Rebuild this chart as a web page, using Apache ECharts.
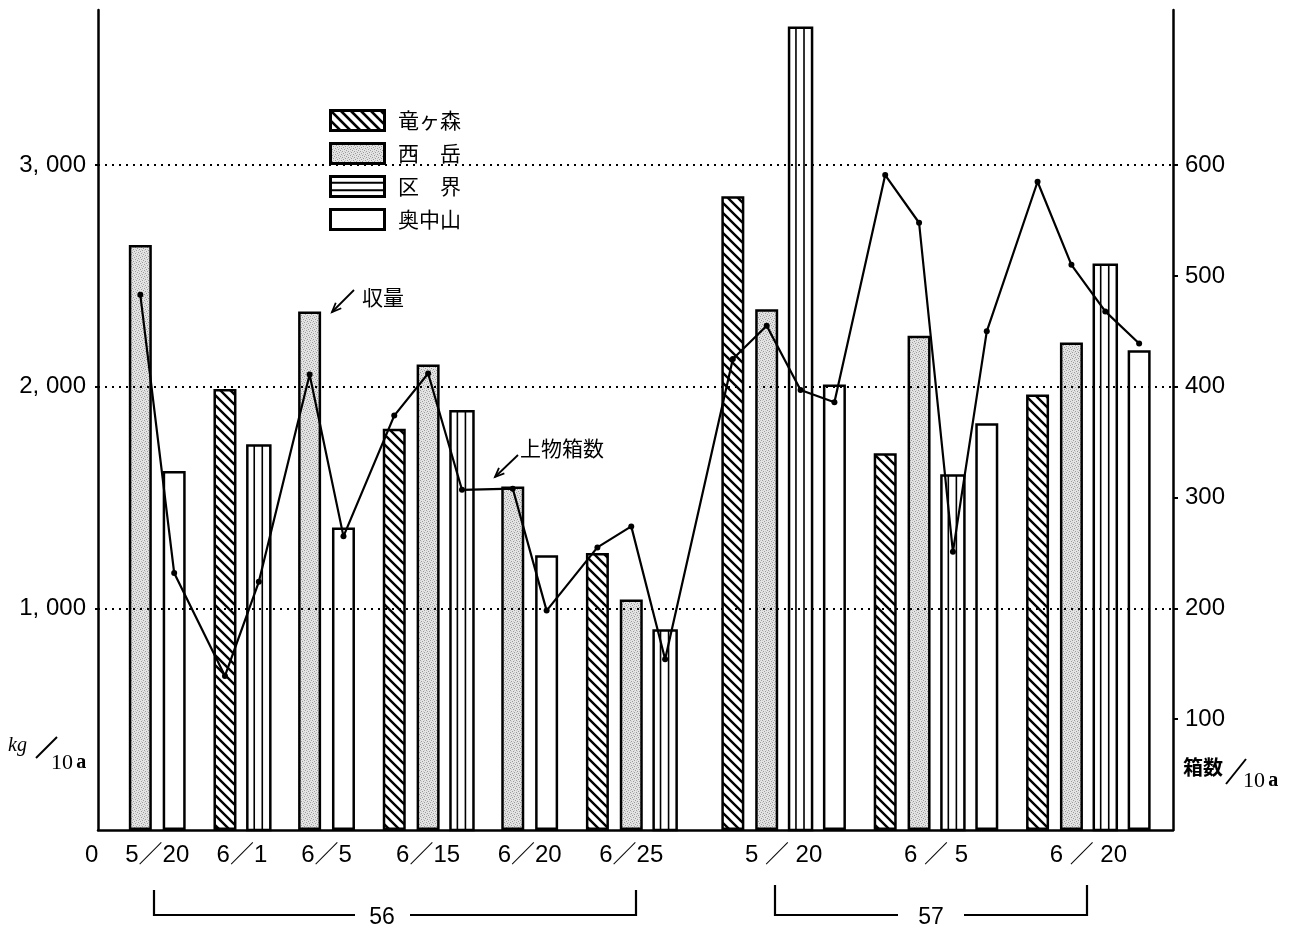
<!DOCTYPE html>
<html><head><meta charset="utf-8">
<script src="https://cdn.jsdelivr.net/npm/echarts@6/dist/echarts.min.js"></script>
<style>html,body{margin:0;padding:0;background:#fff}#c{width:1296px;height:930px}</style>
</head><body><div id="c"></div>
<script>
// ---------------- data ----------------
const stations = ['竜ヶ森', '西岳', '区界', '奥中山'];
const dates56 = ['5／20', '6／1', '6／5', '6／15', '6／20', '6／25'];
const dates57 = ['5 ／ 20', '6 ／ 5', '6 ／ 20'];
const yearLabels = ['56', '57'];
// 収量 kg/10a, per harvest date (56 dates then 57 dates); null = no bar
const yieldRyu   = [null, 1990, null, 1810, null, 1250, 2860, 1700, 1965];
const yieldNishi = [2640, null, 2340, 2100, 1550, 1040, 2350, 2230, 2200];
const yieldKuz   = [null, 1735, null, 1890, null,  900, 3620, 1600, 2550];
const yieldOku   = [1620, null, 1365, null, 1240, null, 2010, 1835, 2165];
// 上物箱数 boxes/10a, same layout
const boxRyu   = [null, 139, null, 374, null, 255, 425, 591, 585];
const boxNishi = [483, null, 411, 412, 308, 274, 455, 548, 510];
const boxKuz   = [null, 224, null, 307, null, 154, 397, 251, 468];
const boxOku   = [232, null, 265, null, 198, null, 386, 450, 439];
const leftTicks = [1000, 2000, 3000];
const rightTicks = [100, 200, 300, 400, 500, 600];

// ---------------- layout of bar slots (built from data) ----------------
const yields = [yieldRyu, yieldNishi, yieldKuz, yieldOku];
const boxes = [boxRyu, boxNishi, boxKuz, boxOku];
const dates = dates56.concat(dates57);
const slots = [];
let pos = null;
for (let g = 0; g < dates.length; g++) {
  let first = true;
  for (let s = 0; s < stations.length; s++) {
    if (yields[s][g] == null) continue;
    if (pos === null) pos = 2.5;
    else pos += first ? (g === dates56.length ? 4 : 3) : 2;
    first = false;
    slots.push({ x: pos, s: s, g: g });
  }
}
const xMax = pos + 2;
const labelMap = {};
const groupCenters = [];
for (let g = 0; g < dates.length; g++) {
  const xs = slots.filter(d => d.g === g).map(d => d.x);
  const c = (Math.min(...xs) + Math.max(...xs)) / 2;
  labelMap[String(c)] = dates[g];
  groupCenters.push(c);
}

const BAR_W = 23;
const FONT_NUM = '"Liberation Sans", "Noto Sans CJK JP", sans-serif';
const FONT_JP = '"Noto Sans CJK JP", sans-serif';

// ---------------- patterns ----------------
function hatchCanvas() {
  const c = document.createElement('canvas'); c.width = 10; c.height = 10;
  const x = c.getContext('2d');
  x.fillStyle = '#fff'; x.fillRect(0, 0, 10, 10);
  x.strokeStyle = '#000'; x.lineWidth = 2.4;
  x.beginPath();
  x.moveTo(-2, -2); x.lineTo(12, 12);
  x.moveTo(-12, -2); x.lineTo(2, 12);
  x.moveTo(8, -2); x.lineTo(22, 12);
  x.stroke();
  return c;
}
function stippleCanvas() {
  const c = document.createElement('canvas'); c.width = 6; c.height = 6;
  const x = c.getContext('2d');
  x.fillStyle = '#e4e4e4'; x.fillRect(0, 0, 6, 6);
  x.fillStyle = '#9a9a9a';
  [[0,0],[3,1],[1,3],[4,4],[5,2],[2,5]].forEach(p => x.fillRect(p[0], p[1], 1, 1));
  x.fillStyle = '#c8c8c8';
  [[1,1],[4,0],[0,4],[3,3]].forEach(p => x.fillRect(p[0], p[1], 1, 1));
  return c;
}
function iconURL(kind) {
  const W = 57, H = 23;
  const c = document.createElement('canvas'); c.width = W; c.height = H;
  const x = c.getContext('2d');
  x.fillStyle = '#fff'; x.fillRect(0, 0, W, H);
  if (kind === 0) {
    x.save(); x.beginPath(); x.rect(0, 0, W, H); x.clip();
    x.strokeStyle = '#000'; x.lineWidth = 2.6;
    for (let k = -30; k < W + 10; k += 10) { x.beginPath(); x.moveTo(k, 0); x.lineTo(k + H, H); x.stroke(); }
    x.restore();
  } else if (kind === 1) {
    x.fillStyle = x.createPattern(stippleCanvas(), 'repeat'); x.fillRect(0, 0, W, H);
  } else if (kind === 2) {
    x.strokeStyle = '#000'; x.lineWidth = 2;
    [H / 3, 2 * H / 3].forEach(yy => { x.beginPath(); x.moveTo(0, yy); x.lineTo(W, yy); x.stroke(); });
  }
  x.strokeStyle = '#000'; x.lineWidth = 3; x.strokeRect(1.5, 1.5, W - 3, H - 3);
  return 'image://' + c.toDataURL();
}

function barData(s) {
  return slots.filter(d => d.s === s).map(d => [d.x, yields[s][d.g]]);
}

const series = [];
[0, 1, 3].forEach(s => {
  series.push({
    name: stations[s], type: 'bar', xAxisIndex: 0, yAxisIndex: 0,
    barWidth: BAR_W, barGap: '-100%',
    data: barData(s),
    itemStyle: {
      color: s === 0 ? { image: hatchCanvas(), repeat: 'repeat' }
           : s === 1 ? { image: stippleCanvas(), repeat: 'repeat' } : '#fff',
      borderColor: '#000', borderWidth: 2.5
    },
    emphasis: { disabled: true }, z: 2
  });
});
series.splice(2, 0, {
  name: stations[2], type: 'custom', xAxisIndex: 0, yAxisIndex: 0,
  data: barData(2),
  renderItem: function (params, api) {
    const xv = api.value(0), v = api.value(1);
    const top = api.coord([xv, v]), bot = api.coord([xv, 0]);
    const l = top[0] - BAR_W / 2;
    return { type: 'group', children: [
      { type: 'rect', shape: { x: l, y: top[1], width: BAR_W, height: bot[1] - top[1] },
        style: { fill: '#fff', stroke: '#000', lineWidth: 2.5 } },
      { type: 'line', shape: { x1: l + BAR_W * 0.3, y1: top[1], x2: l + BAR_W * 0.3, y2: bot[1] },
        style: { stroke: '#000', lineWidth: 1.6 } },
      { type: 'line', shape: { x1: l + BAR_W * 0.65, y1: top[1], x2: l + BAR_W * 0.65, y2: bot[1] },
        style: { stroke: '#000', lineWidth: 1.6 } }
    ] };
  },
  z: 2
});
series.push({
  name: '上物箱数', type: 'line', xAxisIndex: 0, yAxisIndex: 1,
  data: slots.map(d => [d.x, boxes[d.s][d.g]]),
  symbol: 'circle', symbolSize: 6,
  lineStyle: { color: '#000', width: 2.2 },
  itemStyle: { color: '#000' },
  z: 5,
  markLine: {
    silent: true, symbol: ['none', 'none'], label: { show: false },
    lineStyle: { color: '#000', type: [2, 5], width: 1.8 },
    data: [{ yAxis: 200 }, { yAxis: 400 }, { yAxis: 600 }]
  }
});

function arrow(x1, y1, x2, y2) {
  const a = Math.atan2(y2 - y1, x2 - x1), L = 10, sp = 0.4;
  return [
    { type: 'line', shape: { x1, y1, x2, y2 }, style: { stroke: '#000', lineWidth: 1.8 } },
    { type: 'polyline', shape: { points: [
      [x2 - L * Math.cos(a - sp), y2 - L * Math.sin(a - sp)], [x2, y2],
      [x2 - L * Math.cos(a + sp), y2 - L * Math.sin(a + sp)] ] },
      style: { stroke: '#000', lineWidth: 1.8, fill: null } }
  ];
}
function bracket(xl, xr, ytop, ybot, gl, gr, label, cx) {
  return [
    { type: 'polyline', shape: { points: [[xl, ytop], [xl, ybot], [gl, ybot]] }, style: { stroke: '#000', lineWidth: 2.2, fill: null } },
    { type: 'polyline', shape: { points: [[gr, ybot], [xr, ybot], [xr, ytop]] }, style: { stroke: '#000', lineWidth: 2.2, fill: null } },
    { type: 'text', x: cx, y: ybot + 3, style: { text: label, font: '23px ' + FONT_NUM, fill: '#000', align: 'center', verticalAlign: 'middle' } }
  ];
}

const chart = echarts.init(document.getElementById('c'));
chart.setOption({
  animation: false,
  backgroundColor: '#fff',
  grid: { left: 98, right: 123, top: 10, bottom: 100, containLabel: false },
  legend: {
    data: stations.map((n, i) => ({ name: n, icon: iconURL(i) })),
    orient: 'vertical', left: 329, top: 109, padding: 0,
    itemWidth: 57, itemHeight: 23, itemGap: 10,
    selectedMode: false,
    formatter: n => n.length === 2 ? n[0] + '　' + n[1] : n,
    textStyle: { fontFamily: FONT_JP, fontSize: 21, color: '#000', padding: [0, 0, 0, 7] }
  },
  xAxis: {
    type: 'value', min: 0, max: xMax, interval: 0.5,
    axisLine: { show: true, lineStyle: { color: '#000', width: 2.5 } },
    axisTick: { show: false }, splitLine: { show: false },
    axisLabel: {
      interval: 0, margin: 13, color: '#000', fontSize: 24, fontFamily: FONT_NUM,
      showMinLabel: true, showMaxLabel: true,
      formatter: v => labelMap[String(v)] || ''
    }
  },
  yAxis: [{
    type: 'value', min: 0, max: 3700, interval: 1000, position: 'left',
    axisLine: { show: true, lineStyle: { color: '#000', width: 2.5 } },
    axisTick: { show: true, length: 3, customValues: leftTicks, lineStyle: { color: '#000', width: 2 } },
    splitLine: { show: false },
    axisLabel: {
      margin: 12, color: '#000', fontSize: 24, fontFamily: FONT_NUM,
      showMaxLabel: false,
      formatter: v => v === 0 ? '{z|0}' : (leftTicks.indexOf(v) >= 0 ? (v / 1000) + ', 000' : ''),
      rich: { z: { width: 1, align: 'left', padding: [50, 0, 0, 0], fontSize: 24, fontFamily: FONT_NUM, color: '#000' } }
    }
  }, {
    type: 'value', min: 0, max: 740, interval: 100, position: 'right',
    axisLine: { show: true, lineStyle: { color: '#000', width: 2.5 } },
    axisTick: { show: true, length: 5, customValues: rightTicks, lineStyle: { color: '#000', width: 2 } },
    splitLine: { show: false },
    axisLabel: {
      margin: 12, color: '#000', fontSize: 24, fontFamily: FONT_NUM, showMaxLabel: false,
      formatter: v => rightTicks.indexOf(v) >= 0 ? String(v) : ''
    }
  }],
  series: series,
  graphic: [].concat(
    [
      { type: 'text', x: 362, y: 297, style: { text: '収量', font: '21px ' + FONT_JP, fill: '#000', verticalAlign: 'middle' } },
      { type: 'text', x: 520, y: 448, style: { text: '上物箱数', font: '21px ' + FONT_JP, fill: '#000', verticalAlign: 'middle' } },
      { type: 'text', x: 8, y: 746, style: { text: 'kg', font: 'italic 20px "Liberation Serif", serif', fill: '#000', verticalAlign: 'middle' } },
      { type: 'line', shape: { x1: 36, y1: 758, x2: 57, y2: 737 }, style: { stroke: '#000', lineWidth: 2 } },
      { type: 'text', x: 51, y: 763, style: { text: '{n|10} {a|a}', rich: { n: { font: '22px "Liberation Serif", serif', fill: '#000' }, a: { font: 'bold 20px "Liberation Serif", serif', fill: '#000' } }, verticalAlign: 'middle' } },
      { type: 'text', x: 1183, y: 767, style: { text: '箱数', font: 'bold 20px ' + FONT_JP, fill: '#000', verticalAlign: 'middle' } },
      { type: 'line', shape: { x1: 1226, y1: 784, x2: 1246, y2: 759 }, style: { stroke: '#000', lineWidth: 2 } },
      { type: 'text', x: 1243, y: 781, style: { text: '{n|10} {a|a}', rich: { n: { font: '22px "Liberation Serif", serif', fill: '#000' }, a: { font: 'bold 20px "Liberation Serif", serif', fill: '#000' } }, verticalAlign: 'middle' } }
    ],
    arrow(354, 290, 332, 312),
    arrow(518, 455, 495, 477),
    bracket(154, 636, 890, 915, 355, 410, yearLabels[0], 382),
    bracket(775, 1087, 885, 915, 898, 964, yearLabels[1], 931)
  )
});
</script>
</body></html>
